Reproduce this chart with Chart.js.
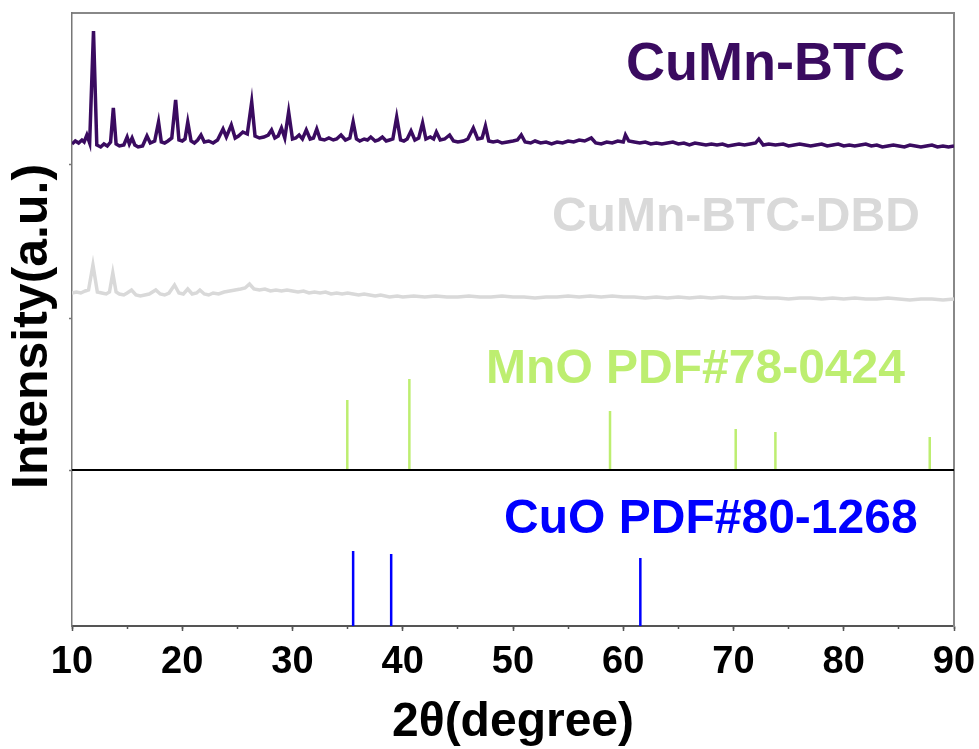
<!DOCTYPE html>
<html>
<head>
<meta charset="utf-8">
<script src="https://cdn.jsdelivr.net/npm/chart.js@4.4.1/dist/chart.umd.min.js"></script>
<style>
  html, body { margin: 0; padding: 0; background: #fff; }
  #wrap { width: 979px; height: 749px; }
</style>
</head>
<body>
<div id="wrap"><canvas id="xrd" width="979" height="749"></canvas></div>
<script>
// ---- data ----
const angleTicks = [10, 20, 30, 40, 50, 60, 70, 80, 90];

// CuMn-BTC pattern (2θ, counts above its own baseline)
const btcAngle = [10,10.3,10.6,10.9,11.1,11.35,11.6,11.95,12.25,12.6,12.9,13.2,13.5,13.75,14,14.3,14.7,15,15.2,15.45,15.7,16,16.4,16.8,17.1,17.5,17.85,18.1,18.4,18.7,19.05,19.4,19.7,20,20.25,20.5,20.8,21.1,21.4,21.7,22,22.4,22.8,23.2,23.7,24,24.45,24.8,25.1,25.5,25.9,26.3,26.6,27,27.4,27.8,28.1,28.4,28.7,29,29.3,29.65,30,30.3,30.6,30.9,31.25,31.6,31.9,32.2,32.5,32.9,33.3,33.7,34,34.4,34.8,35.2,35.5,35.8,36.1,36.5,36.8,37.1,37.5,37.8,38.15,38.5,38.8,39.1,39.45,39.8,40.1,40.4,40.75,41.1,41.45,41.8,42.1,42.5,42.8,43.05,43.4,43.8,44.25,44.6,45,45.5,45.9,46.4,46.8,47.2,47.5,47.8,48.2,48.6,49,49.5,50,50.4,50.75,51.1,51.6,52,52.5,53,53.5,54,54.5,55,55.5,56,56.5,57.1,57.5,58,58.5,59,59.5,60,60.2,60.5,61,61.5,62,62.5,63,63.5,64,64.5,65,65.5,66,66.5,67,67.5,68,68.5,69,69.5,70,70.5,71,71.5,72,72.3,72.7,73.2,73.8,74.5,75,75.5,76,76.5,77,77.5,78,78.5,79,79.5,80,80.5,81,81.5,82,82.5,83,83.5,84,84.5,85,85.5,86,86.5,87,87.5,88,88.5,89,89.5,90];
const btcCounts = [21,24,22,25,23,30,22,134,20,18,21,19,23,57,21,19,20,28,21,27,20,18,19,29,22,24,43,23,22,24,27,65,25,24,26,43,24,22,25,30,23,24,22,25,36,28,40,27,29,33,31,63,29,27,28,30,35,27,29,37,27,53,26,27,30,26,35,26,27,36,26,25,27,25,26,30,25,27,43,26,24,26,25,28,24,25,28,24,25,26,48,25,24,26,34,25,27,42,26,28,26,33,25,26,30,24,23,24,26,37,26,27,39,24,23,24,22,23,24,25,30,23,22,24,22,23,21,23,22,24,23,25,24,27,22,21,23,22,24,23,30,24,23,22,23,21,22,21,22,23,21,22,20,22,21,20,21,20,21,19,20,21,20,21,22,26,20,21,20,21,19,20,21,20,19,20,21,19,20,21,19,20,19,20,21,19,20,18,19,20,19,18,20,19,18,19,20,18,19,18,19];

// CuMn-BTC-DBD pattern
const dbdAngle = [10,10.4,10.8,11.2,11.5,11.9,12.3,12.7,13.1,13.4,13.7,14,14.3,14.7,15,15.4,15.8,16.2,16.6,17,17.6,18,18.4,18.8,19.3,19.7,20.1,20.5,20.9,21.3,21.6,22,22.4,22.8,23.3,23.8,24.3,24.8,25.3,25.7,26.1,26.5,27,27.5,28,28.5,29,29.5,30,30.5,31,31.5,32,32.5,33,33.5,34,34.5,35,35.5,36,36.5,37,37.5,38,38.8,39.5,40,41,42,43,44,45,46,47,48,49,50,51,52,53,54,55,56,57,58,59,60,61,62,63,64,65,66,67,68,69,70,71,72,73,74,75,76,77,78,79,80,81,82,83,84,85,86,87,88,89,90];
const dbdCounts = [25,26,25,27,28,53,26,25,24,26,45,26,24,23,25,28,23,22,23,24,28,24,23,25,33,25,24,29,24,25,28,24,23,25,24,26,27,28,29,30,34,29,28,29,27,28,27,28,27,26,27,25,26,25,26,24,25,24,25,24,23,24,23,22,23,21,22,21,22,21,22,21,21,22,21,21,22,21,21,20,21,21,22,21,22,21,22,21,21,20,21,20,21,20,21,20,21,20,20,21,20,20,19,20,20,19,20,19,20,19,19,20,19,18,19,19,18,19];

// reference cards
const mnoPos = [34.97, 40.6, 58.8, 70.2, 73.8, 87.8];
const mnoInt = [70, 91, 59, 41, 38, 33];
const cuoPos = [35.5, 38.95, 61.55];
const cuoInt = [75, 72, 68];

const seriesNames = ['CuMn-BTC', 'CuMn-BTC-DBD', 'MnO PDF#78-0424', 'CuO PDF#80-1268'];
const seriesColors = ['#3a0b60', '#d9d9d9', '#bdee70', '#0000ff'];

// vertical stacking of the four panels
const offsets = [461, 308, 156, 0];
const FONT = 'Liberation Sans, Arial, Helvetica, sans-serif';

function trace(xs, ys, off) {
    return xs.map((x, i) => ({ x, y: ys[i] + off }));
}
function sticks(xs, hs, off) {
    const pts = [];
    xs.forEach((x, i) => {
        pts.push({ x, y: off }, { x, y: off + hs[i] }, { x, y: null });
    });
    return pts;
}

// text labels of each panel
const panelLabels = {
    id: 'panelLabels',
    afterDatasetsDraw(chart) {
        const { ctx, scales: { x, y } } = chart;
        const spots = [
            { ax: 85.55, ay: 561, size: 54 },
            { ax: 86.9,  ay: 408, size: 48 },
            { ax: 85.55, ay: 256, size: 48 },
            { ax: 86.7,  ay: 106, size: 48 }
        ];
        ctx.save();
        ctx.textAlign = 'right';
        ctx.textBaseline = 'middle';
        spots.forEach((s, i) => {
            ctx.font = 'bold ' + s.size + 'px ' + FONT;
            ctx.fillStyle = seriesColors[i];
            ctx.fillText(seriesNames[i], x.getPixelForValue(s.ax), y.getPixelForValue(s.ay));
        });
        ctx.restore();
    }
};

const lineStyle = { pointRadius: 0, tension: 0, fill: false, spanGaps: false };

new Chart(document.getElementById('xrd'), {
    type: 'line',
    data: {
        datasets: [
            { ...lineStyle, label: seriesNames[0], data: trace(btcAngle, btcCounts, offsets[0]), borderColor: seriesColors[0], borderWidth: 3.5 },
            { ...lineStyle, label: seriesNames[1], data: trace(dbdAngle, dbdCounts, offsets[1]), borderColor: seriesColors[1], borderWidth: 3.5 },
            { ...lineStyle, label: 'sep', data: [{ x: 10, y: offsets[2] }, { x: 90, y: offsets[2] }], borderColor: '#000', borderWidth: 2 },
            { ...lineStyle, label: seriesNames[2], data: sticks(mnoPos, mnoInt, offsets[2]), borderColor: seriesColors[2], borderWidth: 2.5 },
            { ...lineStyle, label: seriesNames[3], data: sticks(cuoPos, cuoInt, offsets[3]), borderColor: seriesColors[3], borderWidth: 2.5 }
        ]
    },
    options: {
        responsive: false,
        animation: false,
        devicePixelRatio: 1,
        layout: { padding: 0 },
        plugins: { legend: { display: false }, tooltip: { enabled: false } },
        scales: {
            x: {
                type: 'linear', position: 'bottom', min: 10, max: 90,
                afterBuildTicks: s => { s.ticks = angleTicks.map(v => ({ value: v })); },
                afterFit: s => { s.height = 123; s.paddingLeft = 0; s.paddingRight = 0; },
                grid: { drawOnChartArea: false, tickLength: 5, tickWidth: 1.5, tickColor: '#555' },
                border: { color: '#555', width: 2 },
                ticks: { color: '#000', padding: 9, maxRotation: 0, font: { family: FONT, size: 38, weight: 'bold' } },
                title: { display: true, text: '2θ(degree)', color: '#000', padding: { top: 0, bottom: 0 }, font: { family: FONT, size: 48, weight: 'bold', lineHeight: 1.1 } }
            },
            xMinor: {
                type: 'linear', position: { y: 0 }, min: 10, max: 90,
                ticks: { stepSize: 5, callback: () => '' },
                grid: { drawOnChartArea: false, tickLength: 3, tickWidth: 1.5, tickColor: '#555' },
                border: { display: false }
            },
            xTop: {
                type: 'linear', position: 'top', min: 10, max: 90,
                afterFit: s => { s.height = 13; s.paddingLeft = 0; s.paddingRight = 0; },
                ticks: { display: false },
                grid: { display: false },
                border: { color: '#888', width: 2 }
            },
            y: {
                type: 'linear', position: 'left', min: 0, max: 613,
                afterBuildTicks: s => { s.ticks = offsets.slice(0, 3).map(v => ({ value: v })); },
                afterFit: s => { s.width = 72; s.paddingTop = 0; s.paddingBottom = 0; },
                ticks: { callback: () => '', padding: 0 },
                grid: { drawOnChartArea: false, tickLength: 3, tickWidth: 1.5, tickColor: '#777' },
                border: { color: '#777', width: 1.5 },
                title: { display: true, text: 'Intensity(a.u.) ', color: '#000', padding: { top: 3, bottom: 0 }, font: { family: FONT, size: 50, weight: 'bold' } }
            },
            yRight: {
                type: 'linear', position: 'right', min: 0, max: 613,
                afterFit: s => { s.width = 25; },
                ticks: { display: false },
                grid: { display: false },
                border: { color: '#888', width: 2 }
            }
        }
    },
    plugins: [panelLabels]
});
</script>
</body>
</html>
